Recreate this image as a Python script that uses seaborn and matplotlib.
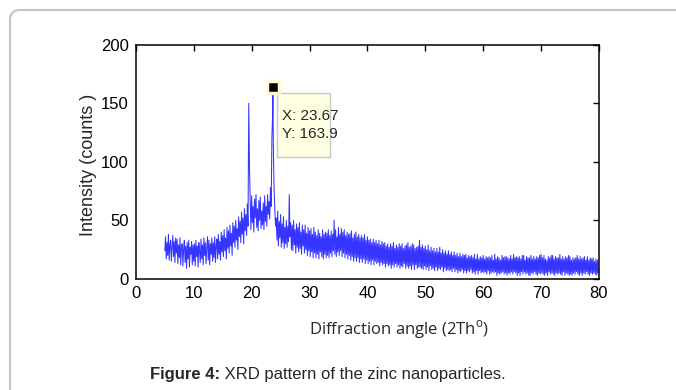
import numpy as np
import pandas as pd
import matplotlib
matplotlib.use("Agg")
import matplotlib.pyplot as plt
import seaborn as sns
from matplotlib.patches import FancyBboxPatch, Rectangle
from matplotlib.transforms import IdentityTransform

# ── dados (2θ de 5 a 80, passo 0.125, 8 pontos por grau) ──
X_INICIO, X_FIM, X_PASSO = 5.0, 80.0, 0.125
INTENSIDADE = [
    24, 36, 17, 31, 20, 38, 16, 29,   # 5
    33, 15, 27, 37, 19, 32, 14, 35,   # 6
    22, 34, 13, 29, 18, 35, 12, 27,   # 7
    30, 11, 26, 33, 14, 28, 9, 31,    # 8
    17, 33, 10, 27, 21, 32, 12, 29,   # 9
    15, 30, 11, 33, 19, 28, 10, 31,   # 10
    24, 14, 34, 17, 29, 12, 35, 20,   # 11
    31, 13, 27, 36, 16, 33, 12, 30,   # 12
    21, 35, 15, 31, 18, 36, 14, 28,   # 13
    34, 17, 38, 21, 32, 16, 40, 23,   # 14
    37, 19, 42, 24, 35, 17, 44, 26,   # 15
    41, 22, 46, 28, 39, 20, 48, 31,   # 16
    45, 27, 50, 33, 43, 25, 53, 36,   # 17
    49, 31, 57, 38, 52, 30, 60, 41,   # 18
    55, 37, 64, 45, 150, 96, 66, 42,  # 19
    71, 48, 62, 40, 68, 52, 72, 44,   # 20
    60, 41, 67, 50, 70, 43, 58, 46,   # 21
    65, 42, 71, 49, 62, 45, 72, 55,   # 22
    66, 51, 78, 62, 121, 140, 112, 78,  # 23
    60, 45, 52, 33, 58, 28, 49, 35,   # 24
    55, 27, 47, 31, 53, 26, 44, 30,   # 25
    50, 27, 45, 32, 72, 36, 48, 25,   # 26
    46, 24, 50, 29, 42, 22, 47, 27,   # 27
    44, 23, 48, 26, 40, 21, 46, 28,   # 28
    42, 22, 46, 25, 39, 20, 44, 24,   # 29
    41, 19, 43, 23, 38, 18, 44, 22,   # 30
    40, 18, 37, 21, 42, 17, 39, 23,   # 31
    36, 19, 42, 17, 38, 21, 40, 18,   # 32
    39, 20, 42, 18, 37, 22, 41, 19,   # 33
    38, 24, 50, 21, 42, 19, 36, 23,   # 34
    44, 20, 38, 24, 43, 19, 40, 22,   # 35
    42, 18, 37, 21, 40, 17, 38, 20,   # 36
    39, 16, 41, 19, 35, 15, 38, 18,   # 37
    40, 15, 36, 18, 38, 14, 35, 17,   # 38
    37, 14, 35, 17, 38, 13, 33, 16,   # 39
    36, 13, 33, 15, 34, 12, 31, 16,   # 40
    34, 12, 31, 15, 33, 13, 30, 14,   # 41
    33, 11, 29, 14, 32, 12, 30, 13,   # 42
    31, 10, 28, 13, 30, 11, 27, 12,   # 43
    30, 9, 28, 12, 31, 10, 26, 13,    # 44
    29, 10, 27, 12, 30, 9, 28, 11,    # 45
    30, 10, 26, 13, 28, 9, 29, 11,    # 46
    31, 9, 27, 11, 28, 8, 30, 12,     # 47
    29, 8, 26, 12, 27, 9, 28, 10,     # 48
    33, 10, 27, 9, 29, 8, 26, 11,     # 49
    28, 8, 25, 10, 29, 7, 24, 11,     # 50
    27, 8, 24, 9, 26, 7, 23, 10,      # 51
    26, 7, 23, 9, 27, 8, 22, 10,      # 52
    25, 6, 22, 9, 24, 7, 21, 8,       # 53
    24, 7, 21, 8, 23, 6, 20, 9,       # 54
    23, 6, 20, 8, 22, 5, 19, 7,       # 55
    22, 6, 19, 8, 21, 5, 20, 7,       # 56
    21, 5, 18, 7, 20, 6, 19, 8,       # 57
    20, 5, 18, 6, 21, 4, 17, 7,       # 58
    21, 4, 17, 7, 19, 5, 18, 6,       # 59
    20, 5, 17, 6, 19, 4, 18, 7,       # 60
    19, 4, 18, 5, 20, 6, 16, 5,       # 61
    21, 6, 17, 3, 19, 5, 18, 4,       # 62
    16, 5, 20, 6, 18, 4, 19, 5,       # 63
    19, 3, 18, 5, 17, 4, 20, 6,       # 64
    17, 4, 21, 6, 18, 5, 19, 3,       # 65
    18, 5, 19, 3, 17, 6, 20, 4,       # 66
    20, 6, 16, 4, 19, 5, 18, 3,       # 67
    18, 3, 20, 5, 17, 4, 19, 6,       # 68
    17, 4, 19, 3, 18, 5, 20, 4,       # 69
    21, 5, 18, 4, 20, 3, 17, 5,       # 70
    16, 3, 19, 6, 18, 4, 20, 5,       # 71
    20, 4, 17, 3, 19, 5, 18, 4,       # 72
    18, 5, 21, 4, 17, 3, 19, 6,       # 73
    17, 3, 19, 5, 18, 4, 20, 3,       # 74
    19, 4, 16, 3, 18, 5, 17, 4,       # 75
    18, 6, 20, 4, 17, 3, 19, 5,       # 76
    17, 3, 18, 5, 19, 4, 16, 6,       # 77
    19, 4, 16, 3, 18, 5, 17, 4,       # 78
    18, 5, 15, 4, 17, 3, 16, 5,       # 79
    6,                                # 80
]
PICO_X, PICO_Y = 23.67, 163.9

X_TICKS = [0, 10, 20, 30, 40, 50, 60, 70, 80]
Y_TICKS = [0, 50, 100, 150, 200]

sns.set_style("white")
plt.rcParams["font.family"] = ["Liberation Sans", "DejaVu Sans"]
plt.rcParams["mathtext.fontset"] = "custom"
plt.rcParams["mathtext.rm"] = "Open Sans"

angulos = np.arange(X_INICIO, X_FIM + X_PASSO / 2, X_PASSO)
df = pd.DataFrame({"angulo": angulos, "intensidade": INTENSIDADE})
df = pd.concat([df, pd.DataFrame({"angulo": [PICO_X], "intensidade": [PICO_Y]})])
df = df.sort_values("angulo").reset_index(drop=True)

fig = plt.figure(figsize=(6.76, 3.90), dpi=100)
ax = fig.add_axes([0.201, 0.285, 0.685, 0.600])

sns.lineplot(data=df, x="angulo", y="intensidade", ax=ax, estimator=None,
             color="#1212ff", linewidth=0.75, alpha=0.85)

ax.set_xlim(0, 80)
ax.set_ylim(0, 200)
ax.set_xticks(X_TICKS)
ax.set_yticks(Y_TICKS)
ax.tick_params(direction="in", length=4, width=1, top=True, right=True,
               labelsize=12, pad=5, colors="black")
for s in ax.spines.values():
    s.set_visible(True)
    s.set_color("black")
    s.set_linewidth(1.1)

ax.set_xlabel("")
ax.set_ylabel("")
ax.text(-0.102, 0.487, "Intensity (counts )", transform=ax.transAxes, rotation=90,
        ha="center", va="center", fontsize=13)

# datatip estilo MATLAB
ax.plot([PICO_X], [PICO_Y], marker="s", ms=9, mfc="black", mec="#fffbd6",
        mew=2.5, zorder=5)
ax.add_patch(Rectangle((24.36, 104.3), 9.16, 54.7, facecolor="#ffffe1",
                       edgecolor="#c8c8c8", linewidth=1, zorder=4))
ax.text(25.3, 131.5, "X: 23.67\nY: 163.9", ha="left", va="center", fontsize=11,
        linespacing=1.35, zorder=6)

fig.text(399 / 676, 1 - 330 / 390, r"Diffraction angle (2Th$^{\mathrm{o}}$)",
         ha="center", va="center", fontsize=12, family=["Open Sans", "DejaVu Sans"])

t1 = fig.text(150 / 676, 1 - 375 / 390, "Figure 4:", ha="left", va="center",
              fontsize=12, fontweight="bold")
ax.annotate(" XRD pattern of the zinc nanoparticles.", xy=(1, 0.5), xycoords=t1,
            ha="left", va="center", fontsize=12, annotation_clip=False)

# moldura da página
fig.add_artist(FancyBboxPatch((10, -60), 760, 440, boxstyle="round,pad=0,rounding_size=10",
                              transform=IdentityTransform(), facecolor="none",
                              edgecolor="#c4c4c4", linewidth=1.5))

fig.savefig("out.png", dpi=100)
